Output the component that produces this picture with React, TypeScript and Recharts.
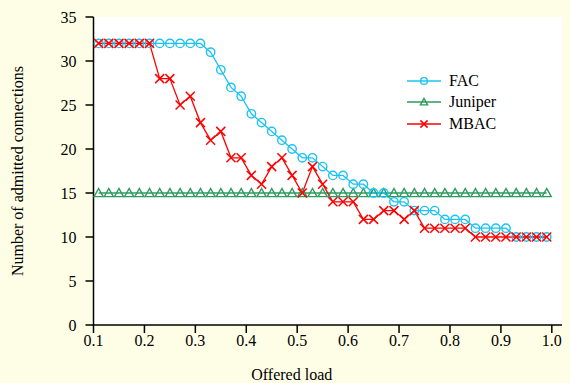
import { LineChart, Line, XAxis, YAxis, CartesianGrid, Legend } from 'recharts';

// offered load, one point every 0.02 from 0.11 to 0.99
const loads = [
  0.11, 0.13, 0.15, 0.17, 0.19, 0.21, 0.23, 0.25, 0.27, 0.29,
  0.31, 0.33, 0.35, 0.37, 0.39, 0.41, 0.43, 0.45, 0.47, 0.49,
  0.51, 0.53, 0.55, 0.57, 0.59, 0.61, 0.63, 0.65, 0.67, 0.69,
  0.71, 0.73, 0.75, 0.77, 0.79, 0.81, 0.83, 0.85, 0.87, 0.89,
  0.91, 0.93, 0.95, 0.97, 0.99,
];

const fac = [
  32, 32, 32, 32, 32, 32, 32, 32, 32, 32,
  32, 31, 29, 27, 26, 24, 23, 22, 21, 20,
  19, 19, 18, 17, 17, 16, 16, 15, 15, 14,
  14, 13, 13, 13, 12, 12, 12, 11, 11, 11,
  11, 10, 10, 10, 10,
];

const juniper = [
  15, 15, 15, 15, 15, 15, 15, 15, 15, 15,
  15, 15, 15, 15, 15, 15, 15, 15, 15, 15,
  15, 15, 15, 15, 15, 15, 15, 15, 15, 15,
  15, 15, 15, 15, 15, 15, 15, 15, 15, 15,
  15, 15, 15, 15, 15,
];

const mbac = [
  32, 32, 32, 32, 32, 32, 28, 28, 25, 26,
  23, 21, 22, 19, 19, 17, 16, 18, 19, 17,
  15, 18, 16, 14, 14, 14, 12, 12, 13, 13,
  12, 13, 11, 11, 11, 11, 11, 10, 10, 10,
  10, 10, 10, 10, 10,
];

const xTicks = [0.1, 0.2, 0.3, 0.4, 0.5, 0.6, 0.7, 0.8, 0.9, 1.0];
const yTicks = [0, 5, 10, 15, 20, 25, 30, 35];
const rightTicks = [5, 15, 20, 30];

const FAC_COLOR = '#1cc3f2';
const JUN_COLOR = '#2e9b5f';
const MBAC_COLOR = '#ff0000';
const FONT = "'Liberation Serif', 'Times New Roman', Tinos, 'DejaVu Serif', 'Noto Serif', FreeSerif, Times, serif";

const data = loads.map((x, i) => ({
  x,
  fac: fac[i],
  juniper: juniper[i],
  mbac: mbac[i],
}));

const Circle = ({ cx, cy, color, r = 4.2 }: any) => (
  <circle cx={cx} cy={cy} r={r} fill="none" stroke={color} strokeWidth={1.4} />
);

const Triangle = ({ cx, cy, color, s = 4.5 }: any) => (
  <polygon
    points={`${cx},${cy - s} ${cx - s},${cy + s * 0.8} ${cx + s},${cy + s * 0.8}`}
    fill="none"
    stroke={color}
    strokeWidth={1.4}
  />
);

const Cross = ({ cx, cy, color, s = 4.5 }: any) => (
  <g stroke={color} strokeWidth={1.5}>
    <line x1={cx - s} y1={cy - s} x2={cx + s} y2={cy + s} />
    <line x1={cx - s} y1={cy + s} x2={cx + s} y2={cy - s} />
  </g>
);

const legendItems = [
  { name: 'FAC', color: FAC_COLOR, Mark: Circle },
  { name: 'Juniper', color: JUN_COLOR, Mark: Triangle },
  { name: 'MBAC', color: MBAC_COLOR, Mark: Cross },
];

const ChartLegend = () => (
  <div style={{ fontFamily: FONT, fontSize: 16, color: '#000' }}>
    {legendItems.map(({ name, color, Mark }) => (
      <div key={name} style={{ display: 'flex', alignItems: 'center', height: 21.5 }}>
        <svg width={34} height={12} style={{ marginRight: 8 }}>
          <line x1={0} y1={6} x2={34} y2={6} stroke={color} strokeWidth={1.3} />
          <Mark cx={17} cy={6} color={color} r={3.4} s={3.6} />
        </svg>
        <span>{name}</span>
      </div>
    ))}
  </div>
);

const tickStyle = { fontFamily: FONT, fontSize: 16, fill: '#000' };

export default function App() {
  return (
    <div style={{ position: 'fixed', left: 0, top: 0, width: 570, height: 383, background: '#fefee6', fontFamily: FONT }}>
      <LineChart width={570} height={383} data={data} margin={{ top: 17, right: 8, bottom: 0, left: 0 }} style={{ fontFamily: FONT }}>
        <CartesianGrid fill="#ffffff" horizontal={false} vertical={false} />
        <XAxis
          dataKey="x"
          type="number"
          domain={[0.1, 1.02]}
          ticks={xTicks}
          tickFormatter={(v: number) => v.toFixed(1)}
          height={58}
          tickSize={8}
          tickMargin={2}
          tick={{ style: tickStyle }}
          stroke="#000"
          strokeWidth={1.5}
          label={{ value: 'Offered load', position: 'insideBottom', offset: 3, dx: -36, style: { ...tickStyle, textAnchor: 'middle' } }}
        />
        <XAxis xAxisId="top" dataKey="x" type="number" domain={[0.1, 1.02]} orientation="top" height={0} tick={false} tickLine={false} stroke="#000" strokeWidth={1.5} />
        <YAxis
          type="number"
          domain={[0, 35]}
          ticks={yTicks}
          width={93.5}
          tickSize={8}
          tickMargin={9}
          tick={{ style: tickStyle }}
          stroke="#000"
          strokeWidth={1.5}
          label={{ value: 'Number of admitted connections', angle: -90, position: 'insideLeft', offset: 17, style: { ...tickStyle, textAnchor: 'middle' } }}
        />
        <YAxis yAxisId="right" orientation="right" type="number" domain={[0, 35]} ticks={rightTicks} width={0} tickSize={-5} tick={false} stroke="#000" strokeWidth={1.5} />
        <Legend
          layout="vertical"
          align="center"
          verticalAlign="middle"
          content={<ChartLegend />}
          wrapperStyle={{ position: 'absolute', left: 407, top: 70, width: 120 }}
        />
        <Line
          dataKey="juniper"
          name="Juniper"
          stroke={JUN_COLOR}
          strokeWidth={1.3}
          isAnimationActive={false}
          dot={(p: any) => <Triangle key={`j${p.index}`} cx={p.cx} cy={p.cy} color={JUN_COLOR} />}
        />
        <Line
          dataKey="fac"
          name="FAC"
          stroke={FAC_COLOR}
          strokeWidth={1.3}
          isAnimationActive={false}
          dot={(p: any) => <Circle key={`f${p.index}`} cx={p.cx} cy={p.cy} color={FAC_COLOR} />}
        />
        <Line
          dataKey="mbac"
          name="MBAC"
          stroke={MBAC_COLOR}
          strokeWidth={1.3}
          isAnimationActive={false}
          dot={(p: any) => <Cross key={`m${p.index}`} cx={p.cx} cy={p.cy} color={MBAC_COLOR} />}
        />
      </LineChart>
    </div>
  );
}
